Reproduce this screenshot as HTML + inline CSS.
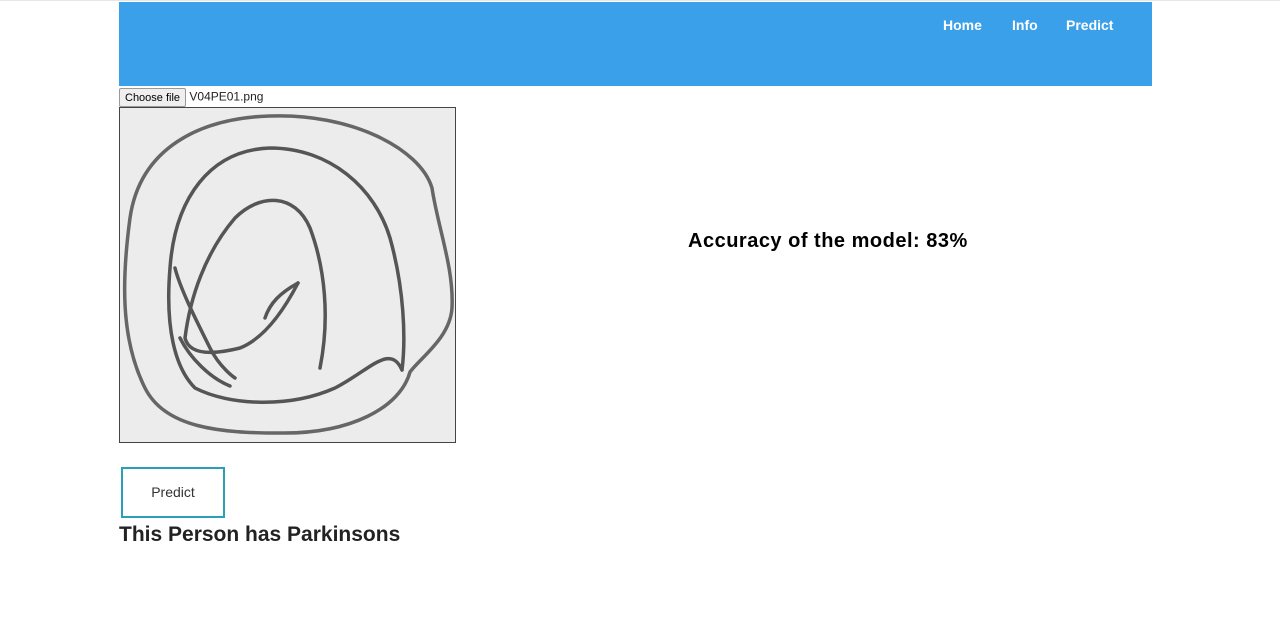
<!DOCTYPE html>
<html><head><meta charset="utf-8">
<style>
body{margin:0;width:1280px;height:624px;background:#fff;font-family:"Liberation Sans",sans-serif;position:relative;overflow:hidden}
.topline{position:absolute;left:0;top:0;width:1280px;height:1px;background:#e6e6e6}
.nav{position:absolute;left:119px;top:2px;width:1033px;height:84px;background:#3ba0ea}
.nav a{position:absolute;top:15px;color:#fff;font-size:14px;font-weight:bold;text-decoration:none}
.file{position:absolute;left:119px;top:88px;font-size:12px;color:#222}
.file button{font-size:11px;padding:1px 5px;border:1px solid #999;background:#efefef;border-radius:2px;height:19px;font-family:"Liberation Sans",sans-serif}
.img{position:absolute;left:119px;top:107px;width:335px;height:334px;border:1px solid #444;background:#ececec}
.btn{position:absolute;left:121px;top:467px;width:104px;height:51px;border:2px solid #2a9fba;background:#fff;font-size:14px;color:#333;text-align:center;line-height:47px;font-family:"Liberation Sans",sans-serif;padding:0;box-sizing:border-box}
.result{position:absolute;left:119px;top:523px;font-size:21px;font-weight:bold;color:#222;margin:0}
.acc{position:absolute;left:688px;top:230px;font-size:20px;font-weight:bold;color:#000;margin:0;letter-spacing:0.5px}
</style></head><body>
<div class="topline"></div>
<div class="nav">
<a href="#" style="left:824px">Home</a>
<a href="#" style="left:893px">Info</a>
<a href="#" style="left:947px">Predict</a>
</div>
<div class="file"><button>Choose file</button> <span>V04PE01.png</span></div>
<div class="img">
<svg width="335" height="334" viewBox="0 0 335 334" fill="none" stroke="#555" stroke-width="3.5" stroke-linecap="round">
<path d="M290 264 C300 250 330 230 332 200 C334 160 318 120 312 80 C300 40 230 5 150 8 C80 10 20 40 10 110 C2 170 0 230 25 280 C45 320 100 325 160 325 C230 326 280 300 290 264 Z" stroke="#666"/>
<path d="M282 262 C286 230 284 180 270 130 C255 80 210 40 150 40 C90 42 55 90 50 160 C45 220 55 260 75 280 C110 298 170 300 215 280 C250 262 270 235 282 262"/>
<path d="M200 260 C210 210 205 160 190 120 C175 85 140 85 115 110 C85 145 70 190 65 230 C70 250 100 245 120 240 C145 230 165 200 178 175"/>
<path d="M178 175 C160 185 150 195 145 210 M55 160 C60 180 75 210 90 240 C100 260 115 270 115 270 M60 230 C70 250 90 270 110 278"/>
</svg>
</div>
<button class="btn">Predict</button>
<h2 class="result">This Person has Parkinsons</h2>
<h2 class="acc">Accuracy of the model: 83%</h2>
</body></html>
